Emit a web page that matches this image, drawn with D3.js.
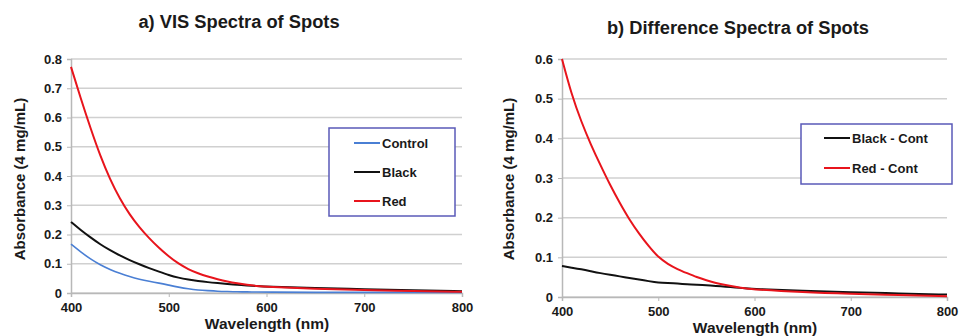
<!DOCTYPE html>
<html>
<head>
<meta charset="utf-8">
<script src="https://cdn.jsdelivr.net/npm/d3@7"></script>
<style>
  body { margin: 0; background: #fff; }
  svg text { font-family: "Liberation Sans", Arial, sans-serif; font-weight: bold; fill: #1a1a1a; }
</style>
</head>
<body>
<div id="chart"></div>
<script>
var wavelengths = [400, 410, 420, 430, 440, 450, 460, 470, 480, 490, 500, 510, 520, 530, 540, 550, 560, 570, 580, 590, 600, 650, 700, 750, 800];

// panel a) VIS spectra
var controlVals = [0.167, 0.140, 0.116, 0.096, 0.080, 0.067, 0.056, 0.047, 0.040, 0.034, 0.027, 0.020, 0.014, 0.010, 0.008, 0.006, 0.005, 0.004, 0.004, 0.003, 0.003, 0.002, 0.002, 0.002, 0.002];
var blackVals   = [0.243, 0.215, 0.190, 0.166, 0.146, 0.128, 0.112, 0.098, 0.085, 0.073, 0.061, 0.052, 0.046, 0.041, 0.037, 0.034, 0.031, 0.028, 0.026, 0.024, 0.022, 0.017, 0.013, 0.009, 0.006];
var redVals     = [0.773, 0.665, 0.563, 0.468, 0.388, 0.322, 0.268, 0.224, 0.187, 0.154, 0.125, 0.100, 0.081, 0.067, 0.056, 0.047, 0.039, 0.033, 0.028, 0.024, 0.021, 0.014, 0.010, 0.007, 0.004];

// panel b) difference spectra
var blackDiffVals = [0.078, 0.074, 0.070, 0.065, 0.060, 0.056, 0.052, 0.048, 0.044, 0.040, 0.036, 0.035, 0.034, 0.032, 0.031, 0.030, 0.028, 0.026, 0.024, 0.022, 0.020, 0.016, 0.012, 0.009, 0.006];
var redDiffVals   = [0.600, 0.510, 0.442, 0.384, 0.332, 0.282, 0.237, 0.195, 0.160, 0.128, 0.100, 0.083, 0.070, 0.060, 0.050, 0.042, 0.035, 0.030, 0.026, 0.022, 0.019, 0.012, 0.008, 0.005, 0.002];

var xTicks = [400, 500, 600, 700, 800];
var yTicksA = [0, 0.1, 0.2, 0.3, 0.4, 0.5, 0.6, 0.7, 0.8];
var yTicksB = [0, 0.1, 0.2, 0.3, 0.4, 0.5, 0.6];

var svg = d3.select("#chart").append("svg")
  .attr("width", 960)
  .attr("height", 336);

function drawPanel(opt)
{
  var xScale = d3.scaleLinear().domain([400, 800]).range([opt.left, opt.right]);
  var yScale = d3.scaleLinear().domain([0, opt.yMax]).range([opt.bottom, opt.top]);

  var g = svg.append("g");

  // gridlines
  g.selectAll("line.grid").data(opt.yTicks).enter().append("line")
    .attr("class", "grid")
    .attr("x1", opt.left).attr("x2", opt.right)
    .attr("y1", function(d){ return yScale(d); })
    .attr("y2", function(d){ return yScale(d); })
    .style("stroke", "#d0d0d0")
    .style("stroke-width", 1.5);

  var xAxis = d3.axisBottom(xScale).tickValues(xTicks).tickSize(4).tickPadding(4).tickFormat(d3.format("d"));
  var gx = g.append("g")
    .attr("transform", "translate(0," + opt.bottom + ")")
    .call(xAxis);
  gx.select(".domain").style("stroke", "#b8b8b8").style("stroke-width", 1.5);
  gx.selectAll(".tick line").style("stroke", "#b8b8b8");
  gx.selectAll("text").style("font-size", "13px").attr("dy", "0.85em");

  var yAxis = d3.axisLeft(yScale).tickValues(opt.yTicks).tickSize(4).tickPadding(5)
    .tickFormat(function(d){ return d === 0 ? "0" : d3.format(".1f")(d); });
  var gy = g.append("g")
    .attr("transform", "translate(" + opt.left + ",0)")
    .call(yAxis);
  gy.select(".domain").style("stroke", "#b8b8b8").style("stroke-width", 1.5);
  gy.selectAll(".tick line").style("stroke", "#b8b8b8");
  gy.selectAll("text").style("font-size", "13px");

  var line = d3.line()
    .x(function(d, i){ return xScale(wavelengths[i]); })
    .y(function(d){ return yScale(d); })
    .curve(d3.curveBasis);

  opt.series.forEach(function(s){
    g.append("path")
      .datum(s.values)
      .attr("d", line)
      .style("fill", "none")
      .style("stroke", s.color)
      .style("stroke-width", s.width);
  });

  // title
  g.append("text")
    .attr("x", opt.titleX).attr("y", opt.titleY)
    .attr("text-anchor", "middle")
    .style("font-size", "18.3px")
    .text(opt.title);

  // axis labels
  g.append("text")
    .attr("text-anchor", "middle")
    .attr("transform", "translate(" + opt.yLabelX + "," + opt.yLabelY + ")rotate(-90)")
    .attr("dy", "0.35em")
    .style("font-size", "15px")
    .text("Absorbance (4 mg/mL)");

  g.append("text")
    .attr("x", opt.xLabelX).attr("y", opt.xLabelY)
    .attr("text-anchor", "middle")
    .attr("dy", "0.35em")
    .style("font-size", "15.5px")
    .text("Wavelength (nm)");

  // legend
  var lg = opt.legend;
  g.append("rect")
    .attr("x", lg.x).attr("y", lg.y)
    .attr("width", lg.w).attr("height", lg.h)
    .style("fill", "#fff")
    .style("stroke", "#5a5ab8")
    .style("stroke-width", 1.5);

  opt.series.forEach(function(s, i){
    var yy = lg.rowY[i];
    g.append("line")
      .attr("x1", lg.lineX1).attr("x2", lg.lineX2)
      .attr("y1", yy).attr("y2", yy)
      .style("stroke", s.color)
      .style("stroke-width", 2);
    g.append("text")
      .attr("x", lg.lineX2 + 2).attr("y", yy)
      .attr("dy", "0.35em")
      .style("font-size", "13px")
      .text(s.name);
  });
}

drawPanel({
  left: 71, right: 462, top: 59, bottom: 293, yMax: 0.8, yTicks: yTicksA,
  title: "a) VIS Spectra of Spots", titleX: 239, titleY: 28,
  yLabelX: 20, yLabelY: 179, xLabelX: 267, xLabelY: 324,
  series: [
    { name: "Control", values: controlVals, color: "#4a7fd4", width: 1.6 },
    { name: "Black", values: blackVals, color: "#111111", width: 2 },
    { name: "Red", values: redVals, color: "#e8141c", width: 2 }
  ],
  legend: { x: 329, y: 128, w: 126, h: 88, lineX1: 354, lineX2: 380, rowY: [143, 172, 201] }
});

drawPanel({
  left: 562, right: 947, top: 59, bottom: 297, yMax: 0.6, yTicks: yTicksB,
  title: "b) Difference Spectra of Spots", titleX: 738, titleY: 34,
  yLabelX: 509, yLabelY: 179, xLabelX: 755, xLabelY: 328,
  series: [
    { name: "Black - Cont", values: blackDiffVals, color: "#111111", width: 2 },
    { name: "Red - Cont", values: redDiffVals, color: "#e8141c", width: 2 }
  ],
  legend: { x: 801, y: 124, w: 151, h: 60, lineX1: 824, lineX2: 850, rowY: [138, 168] }
});
</script>
</body>
</html>
